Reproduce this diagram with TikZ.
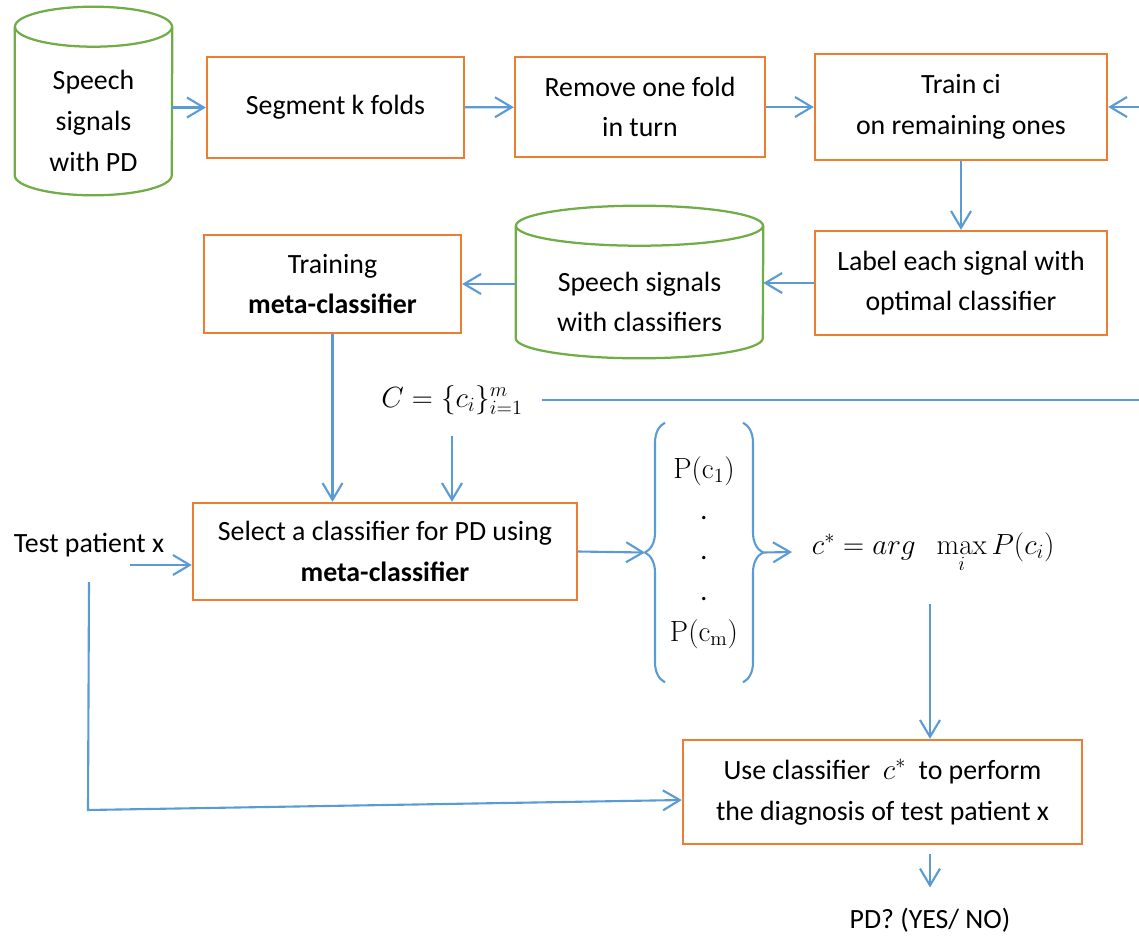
\documentclass[tikz,border=0pt]{standalone}
\usepackage[no-math]{fontspec}
\setmainfont{Carlito}
\usetikzlibrary{arrows.meta,decorations.pathreplacing}
\definecolor{boxorange}{HTML}{ED7D31}
\definecolor{dbgreen}{HTML}{70AD47}
\definecolor{arrblue}{HTML}{5B9BD5}
\begin{document}
\begin{tikzpicture}[x=0.025cm,y=-0.025cm,font=\fontsize{19.8}{29}\selectfont,
                box/.style={draw=boxorange,line width=1.6pt,align=center},
                db/.style={align=center},
                dbline/.style={draw=dbgreen,line width=1.6pt},
                ln/.style={draw=arrblue,line width=1.5pt},
                arr/.style={ln,-{Straight Barb[length=4.2mm,width=5mm]}}]
                \useasboundingbox (0,0) rectangle (1139,936);
                \node[db,minimum width=3.925cm,minimum height=3.7cm] (spd) at (93.5,121) {Speech\\signals\\with PD};
                \draw[dbline] ([yshift=0.5cm]spd.north) ellipse[x radius=1.9625cm,y radius=0.5cm];
                \draw[dbline] ([yshift=0.5cm]spd.north west) -- ([yshift=0.5cm]spd.south west) arc[start angle=180,end angle=360,x radius=1.9625cm,y radius=0.5cm] -- ([yshift=0.5cm]spd.north east);
                \node[box,minimum width=6.425cm,minimum height=2.525cm] (seg) at (335.5,107.5) {Segment k folds};
                \node[box,minimum width=6.25cm,minimum height=2.5cm] (rem) at (640,107) {Remove one fold\\in turn};
                \node[box,minimum width=7.3cm,minimum height=2.65cm] (train) at (961,107) {Train ci\\on remaining ones};
                \node[box,minimum width=7.3cm,minimum height=2.6cm] (lab) at (961,283) {Label each signal with\\optimal classifier};
                \node[db,minimum width=6.175cm,minimum height=2.8cm] (spc) at (639.5,302) {Speech signals\\with classifiers};
                \draw[dbline] ([yshift=0.5cm]spc.north) ellipse[x radius=3.0875cm,y radius=0.5cm];
                \draw[dbline] ([yshift=0.5cm]spc.north west) -- ([yshift=0.5cm]spc.south west) arc[start angle=180,end angle=360,x radius=3.0875cm,y radius=0.5cm] -- ([yshift=0.5cm]spc.north east);
                \node[box,minimum width=6.425cm,minimum height=2.45cm] (meta) at (332.5,284) {Training\\\textbf{meta-classifier}};
                \node (cset) at (452,400) {$C=\{c_i\}_{i=1}^{m}$};
                \node[box,minimum width=9.6cm,minimum height=2.425cm] (sel) at (385,551.5) {Select a classifier for PD using\\\textbf{meta-classifier}};
                \node (tp) at (89,545) {Test patient x};
                \node[align=center,minimum width=1.9cm,minimum height=6.475cm] (probs) at (704,552.5) {$\mathrm{P}(\mathrm{c}_1)$\\.\\.\\.\\$\mathrm{P}(\mathrm{c}_\mathrm{m})$};
                \node[anchor=west,inner xsep=14pt] (cstar) at (792,552) {$c^{*}=arg\;\;\max\limits_{i}P(c_i)$};
                \node[box,minimum width=9.975cm,minimum height=2.6cm] (use) at (882.5,792) {Use classifier~~$c^{*}$~~to perform\\the diagnosis of test patient x};
                \node (pd) at (930,920) {PD? (YES/ NO)};
                \draw[ln,decorate,decoration={brace,amplitude=0.5cm}] (probs.south west) -- (probs.north west);
                \draw[ln,decorate,decoration={brace,amplitude=0.5cm}] (probs.north east) -- (probs.south east);
                \coordinate (rin) at (1139,107);
                \coordinate (cend) at (1139,400);
                \coordinate (tpin) at (130,565);
                \coordinate (cs) at (930,604);
                \coordinate (tpa) at (89,582);
                \coordinate (tpb) at (88,810);
                \draw[arr] (spd.east |- seg.west) -- (seg.west);
                \draw[arr] (seg) -- (rem);
                \draw[arr] (rem) -- (train);
                \draw[arr] (rin) -- (train.east);
                \draw[arr] (train) -- (lab);
                \draw[arr] (lab.west) -- (lab.west -| spc.east);
                \draw[arr] (spc.west |- meta.east) -- (meta.east);
                \draw[arr] (meta.south) -- (meta.south |- sel.north);
                \draw[arr,shorten <=12pt] (cset.south) -- (cset.south |- sel.north);
                \draw[ln,shorten <=10pt] (cset.east) -- (cend);
                \draw[arr] (tpin) -- (tpin -| sel.west);
                \draw[arr] (sel.east) -- ([xshift=-0.5cm]probs.west);
                \draw[arr] ([xshift=0.5cm]probs.east) -- (cstar.west);
                \draw[arr] (cs) -- (cs |- use.north);
                \draw[arr] (tpa) -- (tpb) -- (use.west |- 0,800);
                \draw[arr,shorten <=6pt,shorten >=11pt] (pd.north |- use.south) -- (pd.north);
            \end{tikzpicture}
\end{document}
